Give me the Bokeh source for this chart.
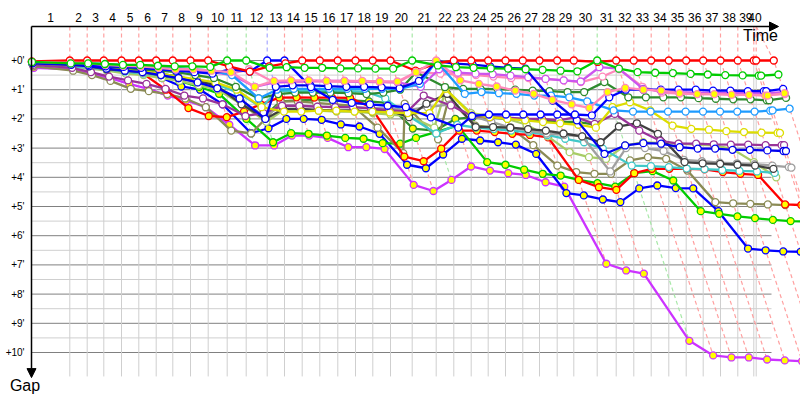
import numpy as np
from bokeh.plotting import figure
from bokeh.models import Range1d, Arrow, NormalHead, ColumnDataSource
from bokeh.core.properties import value
from bokeh.embed import file_html
from bokeh.resources import INLINE

# ---------------- data ----------------
# cumulative race time at each stage end (chart time units); index 0 = start, 41 = final classification
stage_time = [31, 69.3, 86.7, 103.3, 121, 138.3, 155.7, 172.3, 190, 207.7, 226.7, 245.7,
              266.7, 284, 301.7, 319.3, 337.3, 355, 372.3, 390, 411.7, 435.7, 453.3, 470.7,
              487.7, 505, 522.3, 539, 556.7, 573.3, 596.7, 615.7, 633.3, 650.7, 668.3, 685.7,
              702.7, 720, 737.3, 753.3, 755.7, 773.3]
stage_labels = [str(i) for i in range(1, 41)]
# leader colour of each stage's time line (stages 1..40)
stage_kind = ["p"] * 9 + ["g", "g", "b"] + ["p"] * 7 + ["g"] + ["p"] * 9 + ["g"] + ["p"] * 10
gap_ticks = list(range(0, 11))
gap_tick_labels = ["+%d'" % g for g in gap_ticks]

N = None
R1 = [0.03, 0, 0, 0, 0, 0, 0, 0, 0, 0, 0.2, 0.38, 0.2, 0.1, 0, 0, 0, 0, 0, 0, 0.35, 0.1,
      0, 0, 0, 0, 0, 0, 0, 0, 0.05, 0, 0, 0, 0, 0, 0, 0, 0, 0, 0, 0]
G1 = [0.05, 0.1, 0.1, 0.12, 0.15, 0.15, 0.18, 0.2, 0.2, 0.22, 0, 0, 0.25, 0.23, 0.25, 0.25,
      0.27, 0.27, 0.28, 0.28, 0, 0.17, 0.23, 0.25, 0.27, 0.28, 0.3, 0.32, 0.35, 0.37, 0, 0.28,
      0.4, 0.42, 0.43, 0.46, 0.48, 0.5, 0.51, 0.52, 0.52, 0.48]
B3 = [0.08, 0.1, 0.15, 0.2, 0.22, 0.25, 0.3, 0.35, 0.4, 0.45, 0.3, 0.38, 0, 0, 0.91, 1.35,
      1.45, 1.5, 1.55, 1.6, 1.95, 2.3, 1.9, 1.85, 1.85, 1.85, 1.85, 1.85, 1.85, 1.88, 1.26,
      1.0, 1.0, 1.0, 1.0, 1.0, 1.03, 1.03, 1.05, 1.05, 1.05, 0.97]
B1 = [0.1, 0.15, 0.2, 0.28, 0.35, 0.4, 0.5, 0.6, 0.75, 0.95, 1.3, 2.0, 0.9, 0.85, 0.85, 0.88,
      0.9, 0.9, 0.92, 0.95, 0.7, 0.02, 0.11, 0.14, 0.2, 0.25, 0.28, 1.37, 2.05, 3.2, 2.91,
      2.83, 2.85, 2.97, 3.02, 3.02, 3.06, 3.06, 3.08, 3.1, 3.1, N]
BY = [0.1, 0.12, 0.18, 0.23, 0.29, 0.34, 0.6, 0.89, 1.0, 1.5, 2.49, 2.32, 2.0, 2.0, 2.03,
      2.19, 2.26, 2.51, 3.57, 3.69, 3.22, 2.68, 2.74, 2.8, 2.88, 3.2, 4.54, 4.62, 4.76, 4.85,
      4.38, 4.28, 4.37, 4.38, 5.16, 6.44, 6.5, 6.54, 6.55, 6.55, 6.56, 6.56]
MY = [0.25, 0.3, 0.45, 0.6, 0.8, 0.97, 1.2, 1.37, 1.6, 2.2, 2.91, 2.91, 2.57, 2.57, 2.65,
      2.97, 2.97, 3.03, 4.26, 4.47, 4.09, 3.63, 3.77, 3.86, 3.92, 4.17, 4.32, 6.96, 7.19, 7.3,
      9.6, 10.1, 10.17, 10.17, 10.24, 10.27, 10.3, 10.3, 10.32, 10.32, 10.35, 10.35]
VW = [0.05, 0.1, 0.12, 0.15, 0.18, 0.2, 0.25, 0.3, 0.35, 0.4, 0.5, 0.9, 0.75, 0.72, 0.7, 0.7,
      0.7, 0.72, 0.72, 0.75, 0.9, 0.3, 0.42, 0.45, 0.47, 0.52, 0.57, 0.63, 0.68, 0.72, 0.23,
      0.28, 0.97, 1.05, 1.08, 1.1, 1.1, 1.12, 1.12, 1.12, 1.12, 1.08]
PW = [0.05, 0.1, 0.12, 0.15, 0.2, 0.22, 0.25, 0.3, 0.35, 0.4, 0.45, 0.3, 0.75, 0.75, 0.72,
      0.72, 0.73, 0.73, 0.75, 0.75, 0.4, 0.45, 0.47, 0.5, 0.55, 0.6, 0.6, 0.63, 0.68, 0.74,
      0.55, 0.3, 0.9, 1.1, 1.13, 1.15, 1.15, 1.17, 1.17, 1.18, 1.18, 1.15]
PY = [0.05, 0.08, 0.1, 0.15, 0.18, 0.2, 0.25, 0.3, 0.3, 0.35, 0.4, 0.9, 0.7, 0.68, 0.68, 0.7,
      0.7, 0.7, 0.72, 0.72, 0.4, 0.0, 0.68, 0.8, 0.89, 1.03, 1.14, 1.35, 1.5, 1.62, 1.08, 0.94,
      1.0, 1.03, 1.12, 1.15, 1.15, 1.17, 1.18, 1.2, 1.2, 1.12]
DG = [0.08, 0.12, 0.15, 0.2, 0.25, 0.3, 0.35, 0.4, 0.5, 0.6, 0.9, 1.3, 1.15, 1.1, 1.1, 1.1,
      1.12, 1.15, 1.1, 1.0, 0.4, 0.91, 0.97, 0.97, 0.98, 1.0, 1.03, 1.05, 1.08, 1.08, 0.74,
      1.26, 1.26, 1.26, 1.26, 1.29, 1.31, 1.33, 1.33, 1.36, 1.36, 1.28]
DGY = [0.08, 0.12, 0.18, 0.25, 0.3, 0.35, 0.45, 0.55, 0.7, 0.9, 1.4, 1.9, 1.4, 1.37, 1.35,
       1.37, 1.37, 1.4, 1.45, 2.33, 2.4, 2.0, 1.95, 1.95, 2.0, 2.0, 2.05, 2.1, 2.1, 2.2,
       N, N, N, N, N, N, N, N, N, N, N, N]
LB = [0.05, 0.08, 0.1, 0.12, 0.15, 0.18, 0.2, 0.25, 0.3, 0.35, 0.5, 1.3, 1.0, 0.97, 0.97,
      0.97, 0.97, 0.97, 0.97, 0.97, 0.8, 0.02, 1.14, 1.08, 1.12, 1.14, 1.2, 1.2, 1.26, 1.4,
      1.71, 1.75, 1.75, 1.75, 1.75, 1.75, 1.75, 1.75, 1.75, 1.72, 1.71, 1.65]
YW = [0.1, 0.15, 0.2, 0.25, 0.3, 0.35, 0.45, 0.55, 0.65, 0.75, 1.0, 1.6, 1.75, 1.75, 1.72,
      1.72, 1.75, 1.75, 1.78, 1.8, 1.8, 0.97, 1.88, 1.94, 2.0, 2.05, 2.11, 2.15, 2.2, 2.3, 1.6,
      1.43, 1.71, 2.23, 2.34, 2.37, 2.42, 2.45, 2.47, 2.48, 2.48, N]
PU = [0.15, 0.25, 0.4, 0.55, 0.68, 0.8, 0.97, 1.2, 1.3, 1.5, 1.9, 1.8, 1.55, 1.55, 1.58, 1.6,
      1.6, 1.65, 1.7, 1.75, 1.2, 1.54, 1.9, 1.95, 1.95, 2.0, 2.0, 2.05, 1.94, 2.17, 1.83, 2.4,
      2.75, 2.85, 2.85, 2.87, 2.88, 2.88, 2.9, 2.9, 2.9, N]
BK = [0.1, 0.15, 0.2, 0.3, 0.35, 0.4, 0.5, 0.6, 0.7, 0.85, 1.5, 2.0, 1.66, 1.66, 1.69, 1.71,
      1.71, 1.75, 1.71, 1.94, 1.48, 1.14, 2.28, 2.28, 2.3, 2.35, 2.4, 2.5, 2.6, 2.8, 2.26, 2.15,
      2.51, 3.48, 3.52, 3.54, 3.57, 3.6, 3.71, N, N, N]
GR = [0.1, 0.15, 0.22, 0.3, 0.35, 0.42, 0.5, 0.6, 0.75, 0.9, 1.4, 1.9, 1.55, 1.55, 1.58, 1.6,
      1.6, 1.62, 1.65, 1.7, 1.6, 1.5, 1.9, 2.1, 2.3, 2.4, 2.5, 2.55, 2.6, 3.8, 3.0, 3.0, 3.1,
      3.4, 3.45, 3.5, 3.52, 3.55, 3.6, 3.65, 3.67, N]
TQ = [0.12, 0.2, 0.25, 0.3, 0.38, 0.45, 0.5, 0.6, 0.7, 0.8, 1.1, 1.6, 1.05, 1.05, 1.05, 1.05,
      1.05, 1.07, 1.3, 1.9, 2.5, 2.2, 2.3, 2.35, 2.4, 2.45, 2.55, 2.68, 2.8, 3.02, 3.6, 3.62,
      3.65, 3.7, 3.72, 3.75, 3.78, 3.8, 3.85, N, N, N]
YG = [0.12, 0.2, 0.28, 0.35, 0.45, 0.5, 0.6, 0.7, 0.85, 1.0, 1.5, 2.1, 1.7, 1.7, 1.72, 1.75,
      1.75, 1.8, 1.85, 1.9, 2.3, 1.0, 1.8, 1.9, 2.0, 2.2, 2.6, 3.14, 3.31, 3.37, 2.91, 2.8,
      2.83, 2.85, 2.88, 2.91, 3.03, 3.48, 4.0, N, N, N]
RY = [0.05, 0.1, 0.15, 0.25, 0.3, 0.45, 1.0, 1.63, 1.9, 1.94, 1.75, 1.5, 1.27, 1.26, 1.27,
      1.27, 1.28, 1.6, 3.29, 3.45, 3.02, 2.4, 2.4, 2.45, 2.51, 2.55, 2.63, 4.09, 4.34, 4.43,
      3.86, 3.71, 3.71, 3.71, 3.73, 3.82, 3.88, 3.92, 4.93, 4.95, 4.95, 4.96]
OL = [0.2, 0.35, 0.5, 0.7, 0.97, 1.05, 1.15, 1.3, 1.6, 2.4, 2.5, 2.0, 1.4, 1.4, 1.45, 1.5,
      1.55, 2.3, 3.17, 1.48, 2.7, 1.3, 2.23, 2.28, 2.3, 2.9, 3.6, 3.82, 3.88, 3.88, 3.42, 3.31,
      3.37, 3.77, 4.85, 4.89, 4.91, 4.93, 4.95, N, N, N]
GY = [0.1, 0.15, 0.2, 0.3, 0.4, 0.45, 0.5, 0.7, 0.9, 1.14, 2.0, 2.8, 2.49, 2.51, 2.57, 2.65,
      2.68, 2.83, 2.85, 2.65, 2.45, 2.23, 3.48, 3.57, 3.74, 3.88, 3.94, 4.09, 4.2, 4.32, 3.86,
      3.79, 4.11, 5.16, 5.25, 5.34, 5.4, 5.46, 5.5, 5.52, 5.54, 5.55]

YEL = "#ffff00"
WHT = "#ffffff"
riders = [
    (DGY, "#2e8b2e", YEL), (MY, "#cc33ff", YEL), (BY, "#0000ff", YEL), (GY, "#00cc00", YEL),
    (OL, "#8b8b55", WHT), (RY, "#ff0000", YEL), (YG, "#a8cc66", WHT), (TQ, "#40c8c8", WHT),
    (GR, "#a0a0a0", WHT), (BK, "#404040", WHT), (PU, "#993399", WHT), (YW, "#dddd00", WHT),
    (DG, "#2e8b2e", WHT), (PW, "#ff88bb", WHT), (VW, "#cc55ee", WHT), (LB, "#1e9bff", WHT),
    (B1, "#0000ee", WHT), (B3, "#0000ff", WHT), (R1, "#ff0000", WHT), (PY, "#ff88bb", YEL),
    (G1, "#00cc00", WHT),
]

# ---------------- chart constants ----------------
SLANT = 9.6          # horizontal shift of a rider's point per minute of gap
G_AXIS = -1.164      # gap level of the time axis line
G_LABEL = -1.4726    # gap level of stage labels
G_GRID_END = 10.82
X_AXIS0 = stage_time[0]
X_HGRID_END = 771

dash_colors = {"p": "#ffa0a0", "g": "#a8e8a8", "b": "#a8a8ff"}

p = figure(width=800, height=400, output_backend="svg", toolbar_location=None,
           x_range=Range1d(0, 800), y_range=Range1d(11.6438, -2.0548),
           min_border=0, x_axis_location=None, y_axis_location=None)
p.grid.visible = False
p.outline_line_color = None
p.background_fill_color = "white"

def arr(v):
    return np.array([np.nan if a is None else a for a in v], dtype=float)

# horizontal grid
minor = [g + 0.5 for g in gap_ticks[:-1]]
p.segment(x0=[X_AXIS0] * len(minor), x1=[X_HGRID_END] * len(minor), y0=minor, y1=minor,
          line_color="#cfcfcf", line_width=1)
p.segment(x0=[X_AXIS0] * len(gap_ticks), x1=[X_HGRID_END] * len(gap_ticks), y0=gap_ticks,
          y1=gap_ticks, line_color="#808080", line_width=1)
# vertical grid at stage ends
ends = stage_time[1:41]
p.segment(x0=ends, x1=ends, y0=[0] * 40, y1=[G_GRID_END] * 40, line_color="#cfcfcf", line_width=1)

# stage time lines (dashed, slanted by gap)
all_vals = [arr(r[0]) for r in riders]
gmax = np.nanmax(np.vstack(all_vals), axis=0)
xs, ys, cols = [], [], []
for k in range(1, 41):
    b = stage_time[k]
    xs.append([b, b, b + SLANT * gmax[k]])
    ys.append([G_AXIS, 0, gmax[k]])
    cols.append(dash_colors[stage_kind[k - 1]])
b40, b41 = stage_time[40], stage_time[41]
xs.append([b40, b41, b41 + SLANT * gmax[41]])
ys.append([G_AXIS, 0, gmax[41]])
cols.append(dash_colors["p"])
p.multi_line(xs=xs, ys=ys, line_color=cols, line_dash="4 3", line_width=1.2)

# riders
st = np.array(stage_time)
for vals, col, fill in riders:
    g = arr(vals)
    src = ColumnDataSource(dict(x=st + SLANT * g, y=g))
    p.line("x", "y", source=src, line_color=col, line_width=2.3)
    p.scatter("x", "y", source=src, size=7, fill_color=fill, line_color=col, line_width=1.3)

# axes
p.add_layout(Arrow(end=NormalHead(size=9, fill_color="black", line_color="black"),
                   x_start=X_AXIS0, y_start=G_AXIS, x_end=778, y_end=G_AXIS,
                   line_color="black", line_width=1.5))
p.add_layout(Arrow(end=NormalHead(size=9, fill_color="black", line_color="black"),
                   x_start=X_AXIS0, y_start=G_AXIS, x_end=X_AXIS0, y_end=10.86,
                   line_color="black", line_width=1.5))

# stage labels
lab_x = [(stage_time[k - 1] + stage_time[k]) / 2 for k in range(1, 41)]
p.text(x=lab_x, y=[G_LABEL] * 40, text=stage_labels, text_font=value("Liberation Sans"),
       text_font_size="12px", text_align="center", text_baseline="middle", text_color="black")
# gap labels
p.text(x=[24] * len(gap_ticks), y=gap_ticks, text=gap_tick_labels,
       text_font=value("Liberation Sans"), text_font_size="10px", text_align="right",
       text_baseline="middle", text_color="black")
p.text(x=[760], y=[-0.856], text=["Time"], text_font=value("Liberation Sans"),
       text_font_size="16px", text_align="center", text_baseline="middle", text_color="black")
p.text(x=[24.5], y=[11.13], text=["Gap"], text_font=value("Liberation Sans"),
       text_font_size="16px", text_align="center", text_baseline="middle", text_color="black")

open("out.html", "w").write(file_html(p, INLINE))
